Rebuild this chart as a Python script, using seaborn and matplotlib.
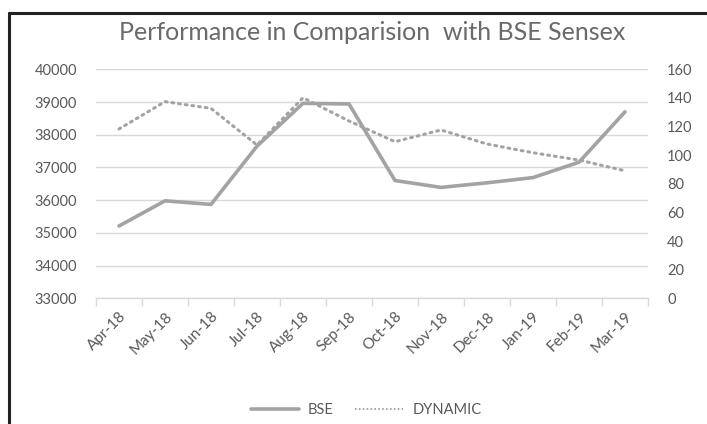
import matplotlib
matplotlib.use("Agg")
import matplotlib.pyplot as plt
from matplotlib.lines import Line2D
import pandas as pd
import seaborn as sns

MONTHS = ["Apr-18", "May-18", "Jun-18", "Jul-18", "Aug-18", "Sep-18",
          "Oct-18", "Nov-18", "Dec-18", "Jan-19", "Feb-19", "Mar-19"]
BSE = [35210, 35980, 35870, 37650, 38960, 38940,
       36600, 36390, 36530, 36690, 37160, 38700]
DYNAMIC = [118.3, 137.4, 132.7, 107.1, 140.1, 123.9,
           109.4, 117.6, 107.8, 101.7, 96.6, 89.1]

GREY = "#a3a3a3"
TXT = "#595959"

sns.set_theme(style="white")
plt.rcParams["font.family"] = ["Lato", "DejaVu Sans"]

df = pd.DataFrame({"idx": range(len(MONTHS)), "month": MONTHS, "BSE": BSE, "DYNAMIC": DYNAMIC})

fig = plt.figure(figsize=(7.07, 4.24), dpi=100)
ax = fig.add_axes([96 / 707, 1 - 298.3 / 424, 552 / 707, 229 / 424])
ax2 = ax.twinx()

sns.lineplot(data=df, x="idx", y="BSE", ax=ax, color=GREY, linewidth=2.6, legend=False)
sns.lineplot(data=df, x="idx", y="DYNAMIC", ax=ax2, color=GREY, linewidth=2.2,
             linestyle=(0, (0.6, 1.6)), dash_capstyle="round", legend=False)

ax.set_xlim(-0.5, len(MONTHS) - 0.5)
ax.set_ylim(33000, 40000)
ax.set_yticks(range(33000, 40001, 1000))
ax2.set_ylim(0, 160)
ax2.set_yticks(range(0, 161, 20))

ax.set_xticks(list(df["idx"]))
ax.set_xticklabels(MONTHS, rotation=45, ha="right", rotation_mode="anchor")
ax.set_xticks([i - 0.5 for i in range(len(MONTHS) + 1)], minor=True)
ax.tick_params(axis="x", which="major", length=0, pad=8, labelsize=11, labelcolor=TXT)
ax.tick_params(axis="x", which="minor", length=6, width=1, color="#d9d9d9", bottom=True)
ax.tick_params(axis="y", length=0, pad=13.7, labelsize=10.5, labelcolor=TXT)
ax2.tick_params(axis="y", length=0, pad=13.7, labelsize=10.5, labelcolor=TXT)

ax.grid(axis="y", color="#d9d9d9", linewidth=1)
ax.set_axisbelow(True)
ax.set_xlabel("")
ax.set_ylabel("")
ax2.set_ylabel("")
for a in (ax, ax2):
    for s in ("top", "left", "right"):
        a.spines[s].set_visible(False)
ax.spines["bottom"].set_color("#d9d9d9")
ax.spines["bottom"].set_linewidth(1)
ax2.spines["bottom"].set_visible(False)

fig.text(372 / 707, 1 - 33 / 424, "Performance in Comparision  with BSE Sensex",
         ha="center", va="center", fontsize=18, color="#6a6a6a")

handles = [Line2D([], [], color=GREY, linewidth=2.6),
           Line2D([], [], color=GREY, linewidth=1.4, linestyle=(0, (0.8, 1.2)))]
fig.legend(handles, ["BSE", "DYNAMIC"], loc="center", bbox_to_anchor=(366 / 707, 1 - 410 / 424),
           ncol=2, frameon=False, fontsize=10.5, labelcolor=TXT, handlelength=3.3,
           handletextpad=0.6, columnspacing=1.5)

# frame around the chart (left and top edges visible in the crop)
fig.add_artist(Line2D([9 / 707, 9 / 707], [0, 1 - 13 / 424], color="#222222", linewidth=2.2))
fig.add_artist(Line2D([9 / 707, 1], [1 - 13 / 424, 1 - 13 / 424], color="#222222", linewidth=2.2))

fig.savefig("out.png", dpi=100)
